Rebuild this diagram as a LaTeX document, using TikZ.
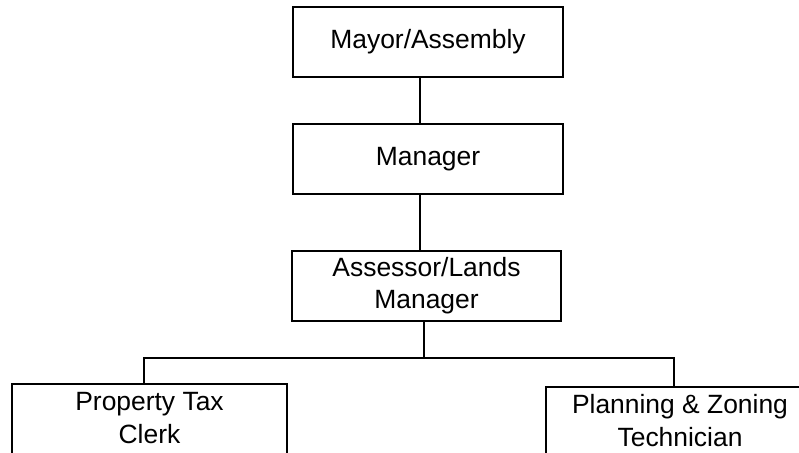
\documentclass[tikz,border=0pt]{standalone}
\usepackage{fontspec}
\setmainfont{Liberation Sans}
\usepackage{tikz}
\newcommand{\orgfont}{\fontsize{18.8}{22.8}\selectfont}
\tikzset{
  unit/.style={draw, line width=1.4pt, minimum width=6.75cm, minimum height=1.75cm, align=center, inner sep=0pt},
  leaf/.style={draw, line width=1.4pt, anchor=north, inner sep=0pt, text height=0.675cm, text depth=3cm},
  link/.style={line width=1.3pt},
}

\begin{document}
\begin{tikzpicture}[font=\orgfont]
\useasboundingbox (0,0) rectangle (19.975,-11.325);
\clip (0,0) rectangle (19.975,-11.325);

% Top of the chart
\node[unit] (mayor) at (10.7, -1.05) {Mayor/Assembly};
\node[unit] (manager) at (10.7, -3.975) {Manager};
\node[unit, minimum width=6.725cm] (assessor) at (10.6625, -7.15) {Assessor/Lands\\Manager};

% Staff
\node[leaf, minimum width=6.875cm] (clerk) at (3.7375, -9.575) {\begin{tabular}[t]{@{}c@{}}Property Tax\\Clerk\end{tabular}};
\node[leaf, minimum width=6.7cm] (tech) at (17.0, -9.65) {\begin{tabular}[t]{@{}c@{}}Planning \& Zoning\\Technician\end{tabular}};

% Connections
\draw[link] ([xshift=-2mm]mayor.south) -- ([xshift=-2mm]manager.north);
\draw[link] ([xshift=-2mm]manager.south) -- ([xshift=-2mm]manager.south |- assessor.north);
\draw[link] ([xshift=-0.6mm]assessor.south) -- ++(0,-0.9) coordinate (bus);
\draw[link] ([xshift=-1.4mm]clerk.north) |- (bus) -| ([xshift=-1.5mm]tech.north);
\end{tikzpicture}
\end{document}
